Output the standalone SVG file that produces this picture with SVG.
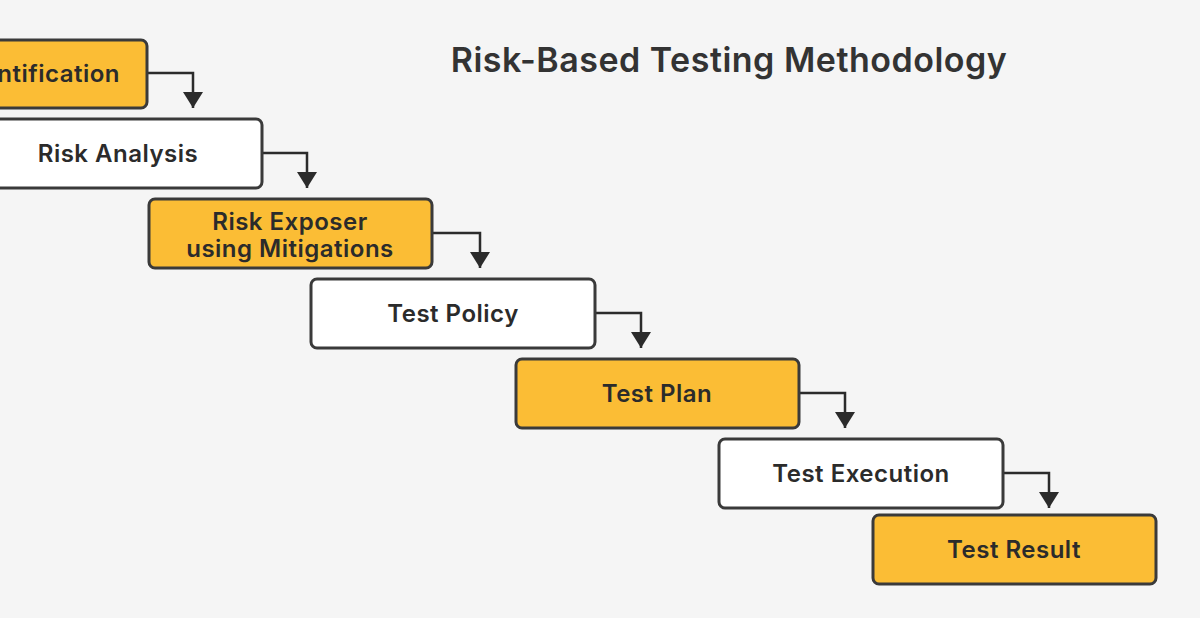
<svg xmlns="http://www.w3.org/2000/svg" width="1200" height="628" viewBox="0 0 1200 628">
<defs>
<style>
.y{fill:#fbbd35;stroke:#3a3a3a;stroke-width:3}
.w{fill:#ffffff;stroke:#3a3a3a;stroke-width:3}
.t{font-family:"Inter","Liberation Sans",sans-serif;font-weight:600;font-size:24px;letter-spacing:0.5px;fill:#2b2b2b;text-anchor:middle}
.c{fill:none;stroke:#2b2b2b;stroke-width:2.5}
</style>
<marker id="b" viewBox="0 0 20 16" refX="10" refY="16" markerWidth="20" markerHeight="16" markerUnits="userSpaceOnUse" orient="0">
<path d="M0,0 L20,0 L10,16 Z" fill="#2b2b2b"/>
</marker>
</defs>
<rect width="1200" height="628" fill="#f5f5f5"/>
<rect y="618" width="1200" height="10" fill="#ffffff"/>
<text x="729" y="72" font-family="Inter,'Liberation Sans',sans-serif" font-weight="600" font-size="34" letter-spacing="0.5" fill="#333" text-anchor="middle">Risk-Based Testing Methodology</text>
<g id="connectors">
<path class="c" d="M147,73 H193 V108" marker-end="url(#b)"/>
<path class="c" d="M262,153 H307 V188" marker-end="url(#b)"/>
<path class="c" d="M432,233 H480 V268" marker-end="url(#b)"/>
<path class="c" d="M595,313 H641 V348" marker-end="url(#b)"/>
<path class="c" d="M799,393 H845 V428" marker-end="url(#b)"/>
<path class="c" d="M1003,473 H1049 V508" marker-end="url(#b)"/>
</g>
<g id="n1"><rect class="y" x="-140" y="40" width="287" height="68" rx="6"/><text class="t" x="120" y="82" style="text-anchor:end">Risk Identification</text></g>
<g id="n2"><rect class="w" x="-10" y="119" width="272" height="69" rx="6"/><text class="t" x="118" y="162">Risk Analysis</text></g>
<g id="n3"><rect class="y" x="149" y="199" width="283" height="69" rx="6"/><text class="t" x="290" y="230">Risk Exposer</text><text class="t" x="290" y="257">using Mitigations</text></g>
<g id="n4"><rect class="w" x="311" y="279" width="284" height="69" rx="6"/><text class="t" x="453" y="322">Test Policy</text></g>
<g id="n5"><rect class="y" x="516" y="359" width="283" height="69" rx="6"/><text class="t" x="657" y="402">Test Plan</text></g>
<g id="n6"><rect class="w" x="719" y="439" width="284" height="69" rx="6"/><text class="t" x="861" y="482">Test Execution</text></g>
<g id="n7"><rect class="y" x="873" y="515" width="283" height="69" rx="6"/><text class="t" x="1014" y="558">Test Result</text></g>
</svg>
